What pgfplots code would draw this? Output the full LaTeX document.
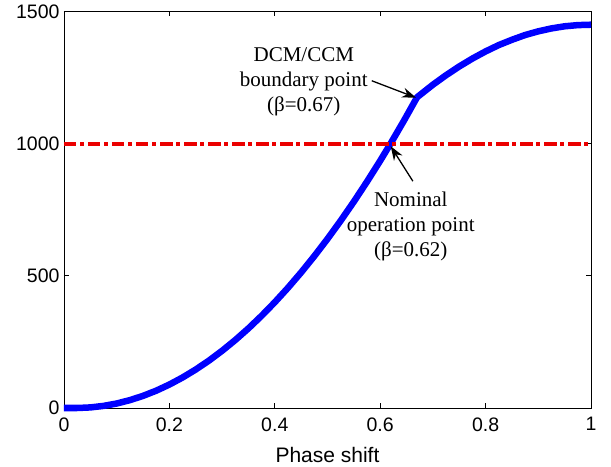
\documentclass[border=0pt]{standalone}
\usepackage{pgfplots}
\pgfplotsset{compat=1.18}
\usepackage{fontspec}
\setmainfont{Liberation Serif}
\newfontfamily\arialfont{Liberation Sans}
\usetikzlibrary{arrows.meta}
\definecolor{curveblue}{RGB}{0,0,255}
\definecolor{refred}{RGB}{235,0,0}

\begin{document}
\begin{tikzpicture}
\begin{axis}[
    scale only axis,
    width=527bp, height=396.5bp,
    xmin=0, xmax=1, ymin=0, ymax=1500,
    xtick={0,0.2,0.4,0.6,0.8,1},
    ytick={0,500,1000,1500},
    tick align=inside,
    major tick length=5bp,
    tick style={black, line width=0.8bp},
    axis line style={black, line width=0.9bp},
    /pgf/number format/assume math mode=true,
    /pgf/number format/1000 sep={},
    ticklabel style={font=\arialfont\fontsize{19.5bp}{21bp}\selectfont},
    xticklabel style={yshift=-6bp},
    yticklabel style={xshift=-1bp},
    xlabel={Phase shift},
    xlabel style={font=\arialfont\fontsize{21bp}{23bp}\selectfont,
        at={(axis description cs:0.5,0)}, anchor=base, yshift=-54bp},
    clip=false,
]

% output power vs phase shift (DCM part up to 0.67, CCM after)
\addplot[curveblue, line width=6.5bp, line join=round] coordinates {
    (0,0) (0.02,0) (0.025,0) (0.05,2.2) (0.075,7.9) (0.1,17.0)
    (0.125,29.7) (0.15,45.9) (0.175,65.5) (0.2,88.7) (0.225,115.4)
    (0.25,145.6) (0.275,179.2) (0.3,216.4) (0.325,257.1) (0.35,301.2)
    (0.375,348.9) (0.4,400.1) (0.425,454.7) (0.45,512.9) (0.475,574.6)
    (0.5,639.8) (0.525,708.4) (0.55,780.6) (0.575,856.3) (0.6,935.4)
    (0.62,1001.3) (0.645,1086.8) (0.67,1175.7)
    (0.7,1223) (0.725,1259) (0.75,1292) (0.775,1322) (0.8,1349)
    (0.825,1373) (0.85,1393) (0.875,1411) (0.9,1425) (0.925,1436)
    (0.95,1444) (0.975,1448.5) (1,1450)
};

% nominal power
\addplot[refred, line width=4.3bp, dash pattern=on 12.5bp off 3.7bp on 4bp off 3.8bp]
    coordinates {(0,1000) (1,1000)};

\node[font=\fontsize{21bp}{25bp}\selectfont, align=center, inner sep=0pt]
    at (axis cs:0.455,1235) {DCM/CCM\\boundary point\\(β=0.67)};
\draw[line width=1.3bp, -{Stealth[length=14bp,width=10bp]}]
    (axis cs:0.584,1238) -- (axis cs:0.668,1174);

\node[font=\fontsize{21bp}{25bp}\selectfont, align=center, inner sep=0pt]
    at (axis cs:0.658,685) {Nominal\\operation point\\(β=0.62)};
\draw[line width=1.3bp, -{Stealth[length=14bp,width=10bp]}]
    (axis cs:0.662,858) -- (axis cs:0.620,990);
\end{axis}
\pgfresetboundingbox
\path[use as bounding box] ([shift={(-64bp,-59bp)}]current axis.south west)
    rectangle ([shift={(20bp,11.5bp)}]current axis.north east);
\end{tikzpicture}
\end{document}
